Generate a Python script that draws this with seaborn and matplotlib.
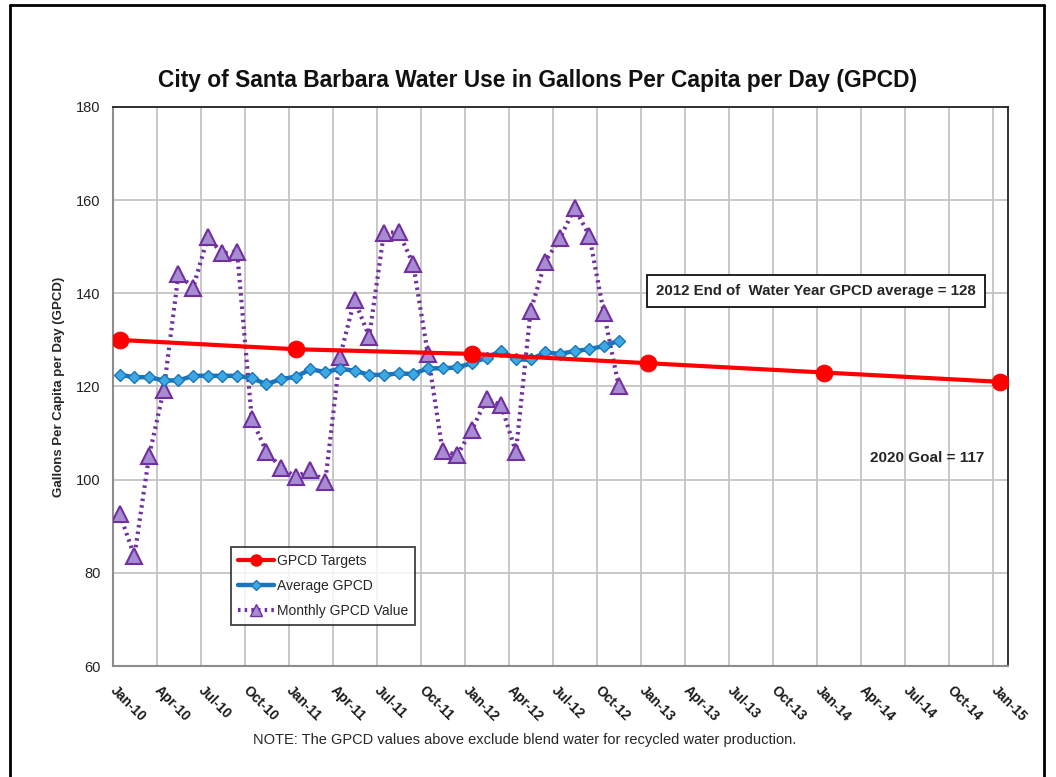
import numpy as np
import pandas as pd
import matplotlib
matplotlib.use("Agg")
import matplotlib.pyplot as plt
from matplotlib.lines import Line2D
import seaborn as sns

# ---------------- data ----------------
month_labels = ["Jan-10", "Apr-10", "Jul-10", "Oct-10", "Jan-11", "Apr-11", "Jul-11",
                "Oct-11", "Jan-12", "Apr-12", "Jul-12", "Oct-12", "Jan-13", "Apr-13",
                "Jul-13", "Oct-13", "Jan-14", "Apr-14", "Jul-14", "Oct-14", "Jan-15"]

# monthly series: Jan-2010 .. Nov-2012 (month index 0..34)
monthly_gpcd = [92.6, 83.6, 105.1, 119.3, 144.1, 141.2, 152.0, 148.6, 148.9, 113.0,
                106.0, 102.6, 100.6, 102.1, 99.4, 126.3, 138.6, 130.7, 152.9, 153.2,
                146.3, 126.9, 106.2, 105.3, 110.7, 117.3, 116.0, 105.9, 136.2, 146.8,
                151.8, 158.3, 152.4, 135.7, 120.2]
average_gpcd = [122.5, 122.0, 122.0, 121.3, 121.3, 122.3, 122.3, 122.3, 122.3, 121.8,
                120.5, 121.6, 122.1, 123.7, 123.1, 123.8, 123.4, 122.5, 122.5, 122.8,
                122.7, 123.9, 123.9, 124.1, 125.0, 126.2, 127.7, 125.8, 125.8, 127.3,
                127.0, 127.6, 128.0, 128.7, 129.8]
# targets each January 2010..2015
target_months = [0, 12, 24, 36, 48, 60]
target_gpcd = [130, 128, 127, 125, 123, 121]

mid = 0.46  # values are plotted mid-month
months = np.arange(len(monthly_gpcd))
df_m = pd.DataFrame({"x": months + mid, "monthly": monthly_gpcd, "avg": average_gpcd})
df_t = pd.DataFrame({"x": np.array(target_months) + mid, "target": target_gpcd})

# ---------------- figure ----------------
sns.set_style("white")
plt.rcParams["font.family"] = ["Liberation Sans", "DejaVu Sans"]

fig = plt.figure(figsize=(10.56, 7.77), dpi=100)
ax = fig.add_axes([113 / 1056, 1 - 666 / 777, (1008 - 113) / 1056, (666 - 107) / 777])

red = "#FF0000"
blue = "#1B75BB"
blue_m = "#3CA9E2"
purple = "#7030A0"
purple_f = "#A88CD2"

sns.lineplot(data=df_m, x="x", y="monthly", ax=ax, color=purple, linewidth=3,
             linestyle=(0, (0.6, 1.0)), marker="^", markersize=12,
             markerfacecolor=purple_f, markeredgecolor=purple, markeredgewidth=1.5,
             zorder=3)
sns.lineplot(data=df_m, x="x", y="avg", ax=ax, color=blue, linewidth=3.2,
             marker="D", markersize=6, markerfacecolor=blue_m, markeredgecolor=blue,
             markeredgewidth=1, zorder=4)
sns.lineplot(data=df_t, x="x", y="target", ax=ax, color=red, linewidth=3,
             marker="o", markersize=12, markerfacecolor=red, markeredgecolor=red,
             zorder=5)

ax.set_xlim(0, 61)
ax.set_ylim(60, 180)
ax.set_yticks(np.arange(60, 181, 20))
ax.set_xticks(np.arange(0, 61, 3))
ax.set_xticklabels(month_labels, rotation=-45, ha="left", va="center",
                   rotation_mode="anchor", fontsize=10, fontweight="bold",
                   color="#1a1a1a")
ax.tick_params(axis="x", direction="out", length=6, width=1, color="#8c8c8c", pad=10)
ax.tick_params(axis="y", length=0, pad=9, labelsize=10.5, labelcolor="#222222")
ax.grid(True, color="#c4c4c4", linewidth=1.3)
ax.set_axisbelow(True)
ax.set_xlabel("")
ax.set_ylabel("Gallons Per Capita per Day (GPCD)", fontsize=9.5, fontweight="bold",
              labelpad=8)

for s in ["left", "bottom"]:
    ax.spines[s].set_color("#8c8c8c")
    ax.spines[s].set_linewidth(1.5)
for s in ["top", "right"]:
    ax.spines[s].set_color("#222222")
    ax.spines[s].set_linewidth(1.3)

# legend
handles = [
    Line2D([], [], color=red, linewidth=3, marker="o", markersize=8),
    Line2D([], [], color=blue, linewidth=3.2, marker="D", markersize=5,
           markerfacecolor=blue_m, markeredgecolor=blue),
    Line2D([], [], color=purple, linewidth=3, linestyle=(0, (0.6, 1.0)), marker="^",
           markersize=9, markerfacecolor=purple_f, markeredgecolor=purple),
]
leg = ax.legend(handles, ["GPCD Targets", "Average GPCD", "Monthly GPCD Value"],
                loc="upper left", bbox_to_anchor=((231 - 113) / 895, (666 - 547) / 559),
                fontsize=10, frameon=True, fancybox=False, handlelength=2.6,
                handletextpad=0.2, borderpad=0.5, labelspacing=0.8,
                borderaxespad=0)
leg.get_frame().set_edgecolor("#111111")
leg.get_frame().set_linewidth(1.3)

# annotations
ax.text((816 - 113) / 895, (666 - 291.5) / 559, "2012 End of  Water Year GPCD average = 128",
        transform=ax.transAxes, ha="center", va="center", fontsize=10.8,
        fontweight="bold",
        bbox=dict(boxstyle="square,pad=0.6", facecolor="white", edgecolor="#111111",
                  linewidth=1.3))
ax.text((984 - 113) / 895, (666 - 458) / 559, "2020 Goal = 117", transform=ax.transAxes,
        ha="right", va="center", fontsize=11, fontweight="bold")

fig.text(538 / 1056, 1 - 80 / 777,
         "City of Santa Barbara Water Use in Gallons Per Capita per Day (GPCD)",
         ha="center", va="center", fontsize=16.4, fontweight="bold", color="#111111")
fig.text(525 / 1056, 1 - 740 / 777,
         "NOTE: The GPCD values above exclude blend water for recycled water production.",
         ha="center", va="center", fontsize=10.5)

# page frame
fx0, fx1, fy1 = 10 / 1056, 1044 / 1056, 1 - 5 / 777
for xs, ys in [([fx0, fx0], [0, fy1]), ([fx0, fx1], [fy1, fy1]), ([fx1, fx1], [fy1, 0])]:
    fig.add_artist(Line2D(xs, ys, transform=fig.transFigure, color="black", linewidth=2))

fig.savefig("out.png", dpi=100)
